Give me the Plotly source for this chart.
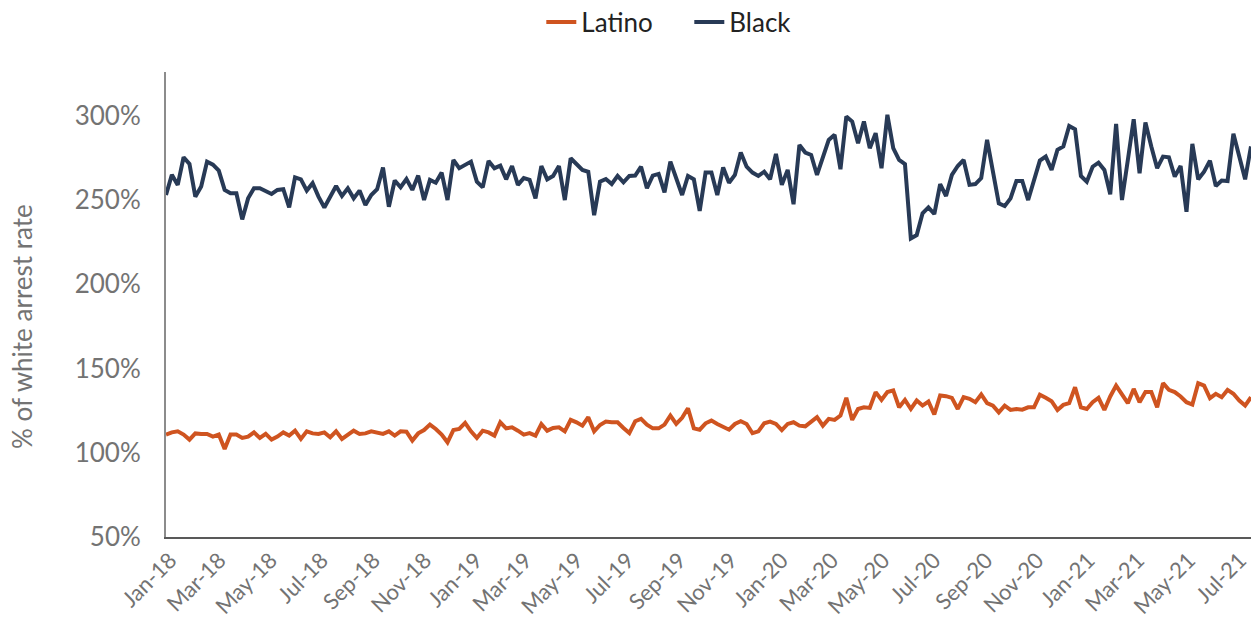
import pandas as pd
import plotly.graph_objects as go

START_DATE = "2017-12-27"

black = [253, 265, 259, 275.4, 271.4, 252, 258, 272.8, 271, 267.5, 256, 254, 254, 238.5, 251, 257, 257, 255, 253.6, 256,
         256.4, 245.6, 263.5, 262.3, 255.6, 260, 252, 245.6, 252, 258.3, 252.4,
         257, 251, 255.6, 247, 253, 256.4, 269.3, 246, 261.6, 257.6, 262.5, 256, 264.5, 250, 262, 260.3, 266.3, 250, 273.8,
         268.9, 270.8, 272.8, 260.9, 257.5, 273.2, 268.9, 270.4, 262.3, 270.2, 259, 263,
         262, 251, 270.2, 262.3, 264.3, 270.2, 250, 274.8, 271.4, 267.9, 266.8, 241, 260.9, 262.5, 259.5, 264.3, 260.5,
         264.3, 264.5, 269.8, 257, 264.5, 265.5, 254.6, 272.8, 263.5, 253, 264.3, 262.3, 243.5, 266.3,
         266.3, 253, 269.3, 260.3, 264.9, 278.2, 269.8, 266.3, 264.3, 266.8, 262.3, 277.4, 259, 267.9, 247.5, 282.7,
         278.2, 276.8, 264.9, 274.8, 285.7, 288.7, 268.3, 299.6, 296.6, 283.7, 296.6, 280.8, 289.7, 268.9,
         300.6, 280.8, 273.8, 271.4, 227.2, 229.2, 242.1, 245.6, 241.7, 259.5, 252.4, 264.9, 270.2, 273.8, 259, 259.5,
         263, 285.7, 266.8, 248, 246.4, 251, 261.3, 261.3, 250, 260.9, 273.4, 275.8, 267.9, 279.8, 281.8,
         294, 292, 264.3, 260.9, 269.8, 272.2, 267.9, 253.4, 295.2, 250, 273.8, 298, 265.9, 296, 281.8, 268.9, 275.8,
         275.4, 263.9, 270.2, 243, 283.3, 262.3, 266.8, 273.4, 258.3, 261.6, 261.3, 289.3, 274.8, 262.3, 281.8]

latino = [110.8, 112.1, 112.7, 110.8, 107.8, 111.5, 111.2, 111.2, 109.6, 110.8, 102.2, 110.8, 110.8, 108.8, 109.6,
          112.1, 108.8, 111.2, 107.8, 109.6, 112.1, 110.2, 113.1, 108.2, 112.7, 111.5, 111.2, 112.1, 109.2, 112.7, 108.2,
          110.8, 113.1, 111.2, 111.5, 112.7, 112.1, 111.2, 112.7, 110.2, 112.7, 112.5, 107.2, 111.5, 113.5, 116.7, 114.1,
          110.8, 106.2, 113.5, 114.1, 117.7, 112.7, 108.8, 113.1, 112.1, 110.2, 118.1, 114.5, 115.1, 113.1, 110.8,
          111.7, 110.2, 117.1, 113.1, 114.7, 115.1, 112.7, 119.5, 118.1, 116.1, 121.1, 112.7, 116.5, 118.5, 118.1, 118.1,
          114.7, 111.7, 118.7, 120.1, 116.7, 114.5, 114.5, 116.7, 122.1, 117.1, 120.7, 126.4, 114.5, 113.7, 117.5,
          119.1, 117.1, 115.5, 113.7, 117.1, 118.7, 117.1, 111.6, 112.7, 117.5, 118.5, 117.1, 113.5, 117.1, 118.1, 116.1,
          115.7, 118.7, 121.1, 116.1, 120.1, 119.5, 122.1, 132.6, 119.5, 126.0, 127.0, 126.6, 136.0, 131.4,
          136.0, 137.0, 127.0, 131.4, 126.0, 131.0, 128.0, 130.4, 122.7, 134.0, 133.6, 132.6, 126.0, 133.0, 132.0, 130.0,
          134.6, 129.4, 128.0, 124.0, 128.0, 125.4, 126.0, 125.6, 127.0, 127.0, 134.4, 132.6, 130.6, 125.4, 128.4,
          129.4, 138.9, 127.0, 126.0, 130.0, 132.6, 125.4, 133.4, 139.9, 135.0, 129.4, 137.9, 130.0, 136.0, 136.0, 127.0,
          141.3, 137.3, 136.0, 133.4, 130.0, 128.6, 141.3, 139.9, 132.4, 135.0, 133.0, 137.3, 135.0, 131.0, 128.0, 133.0]

weeks = pd.date_range(START_DATE, periods=len(black), freq="7D")

y_ticks = [50, 100, 150, 200, 250, 300]
y_tick_text = [f"{v}%" for v in y_ticks]

ORANGE = "#CF5420"
NAVY = "#283A56"
GRAY = "#737373"
FONT = "Lato, Open Sans, sans-serif"

fig = go.Figure()
fig.add_trace(go.Scatter(x=weeks, y=latino, mode="lines", name="Latino",
                         line=dict(color=ORANGE, width=4)))
fig.add_trace(go.Scatter(x=weeks, y=black, mode="lines", name="Black",
                         line=dict(color=NAVY, width=4)))

fig.update_layout(
    width=1251, height=631,
    margin=dict(l=166, r=0, t=72, b=94, autoexpand=False),
    paper_bgcolor="white", plot_bgcolor="white",
    font=dict(family=FONT, size=22, color=GRAY),
    legend=dict(orientation="h", xref="container", yref="container",
                x=0.551, xanchor="center", y=0.965, yanchor="middle",
                font=dict(size=26, color="#222222"), tracegroupgap=0,
                entrywidth=103, entrywidthmode="pixels"),
    showlegend=True,
    xaxis=dict(
        type="date", range=[weeks[0], weeks[-1]],
        tickformat="%b-%y", dtick="M2", tick0="2018-01-01", tickangle=-45,
        showgrid=False, zeroline=False, showline=True, linecolor="#595959", linewidth=1.5,
        ticks="", tickfont=dict(size=22, color=GRAY), ticklabeloverflow="allow",
    ),
    yaxis=dict(
        range=[50, 326], tickvals=y_ticks, ticktext=y_tick_text,
        showgrid=False, zeroline=False, showline=True, linecolor="#8c8c8c", linewidth=2,
        ticks="", tickfont=dict(size=26, color=GRAY), ticklabelstandoff=18,
    ),
    annotations=[dict(text="% of white arrest rate", textangle=-90, xref="paper", yref="paper",
                      x=-0.1327, y=0.4516, xanchor="center", yanchor="middle", showarrow=False,
                      font=dict(size=26, color=GRAY))],
)

fig.write_html("out.html")
